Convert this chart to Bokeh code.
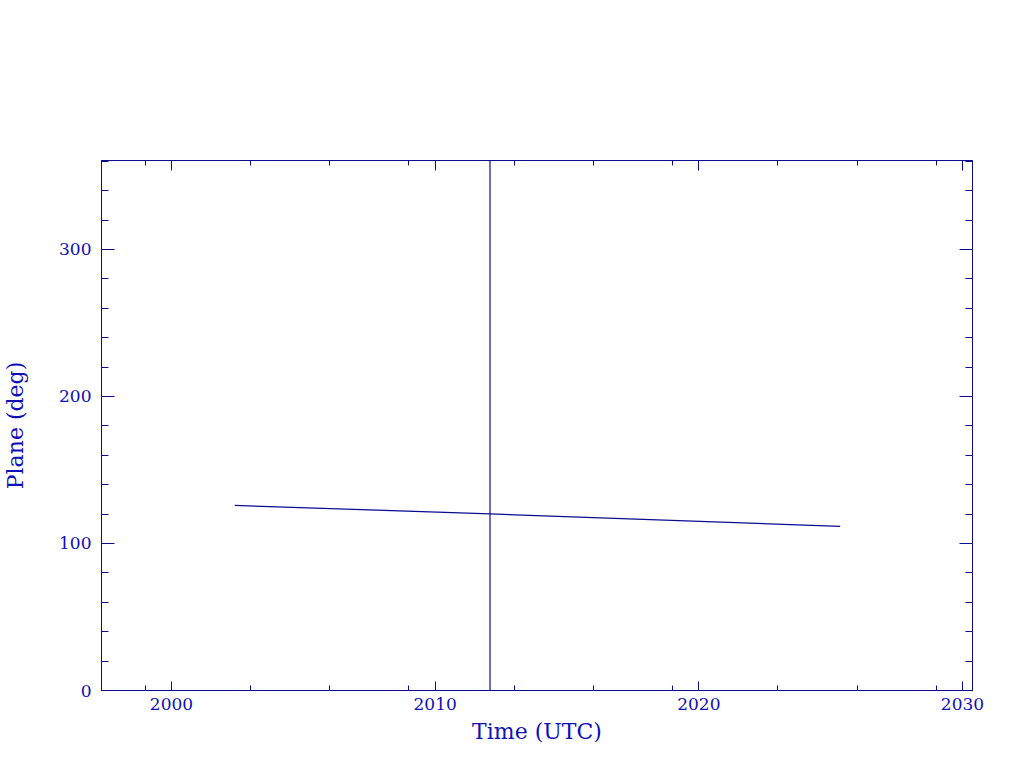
from bokeh.plotting import figure
from bokeh.models import LinearAxis, FixedTicker, Span, Range1d
from bokeh.embed import file_html
from bokeh.resources import INLINE

# data
years = [2002.4, 2012.08, 2025.36]
plane_deg = [125.9, 120.1, 111.6]
marker_year = 2012.08

x_major = [2000, 2010, 2020, 2030]
x_minor = [1999, 2003, 2006, 2009, 2013, 2016, 2019, 2023, 2026, 2029]
y_major = [0, 100, 200, 300]
y_minor = [v for v in range(0, 361, 20) if v % 100 != 0]

LINE = "#0c0c90"
TEXT = "#1010b8"
FONT = "DejaVu Serif"

p = figure(width=1000, height=750, output_backend="svg", toolbar_location=None,
           x_range=Range1d(1997.345, 2030.38), y_range=Range1d(0, 360.5),
           x_axis_location=None, y_axis_location=None,
           min_border_left=95, min_border_right=34, min_border_top=160, min_border_bottom=60)
p.frame_width = 871
p.frame_height = 530
p.xgrid.visible = False
p.ygrid.visible = False
p.outline_line_color = LINE
p.background_fill_color = "white"
p.border_fill_color = "white"


def style(ax, labels, major_len, minor_len):
    ax.axis_line_color = LINE
    ax.major_tick_line_color = LINE
    ax.minor_tick_line_color = LINE
    ax.major_tick_in = major_len
    ax.major_tick_out = 0
    ax.minor_tick_in = minor_len
    ax.minor_tick_out = 0
    if not labels:
        ax.major_label_text_font_size = "0px"
        ax.major_label_text_color = None


xt = FixedTicker(ticks=x_major, minor_ticks=x_minor)
yt = FixedTicker(ticks=y_major, minor_ticks=y_minor)

xb = LinearAxis(ticker=xt, axis_label="Time (UTC)")
style(xb, True, 9, 5)
xb.major_label_text_font = FONT
xb.major_label_text_font_size = "17px"
xb.major_label_text_color = TEXT
xb.major_label_standoff = 7
xb.axis_label_text_font = FONT
xb.axis_label_text_font_size = "22px"
xb.axis_label_text_font_style = "normal"
xb.axis_label_text_color = TEXT
xb.axis_label_standoff = 6
p.add_layout(xb, "below")

xa = LinearAxis(ticker=FixedTicker(ticks=x_major, minor_ticks=x_minor))
style(xa, False, 10, 5)
p.add_layout(xa, "above")

yl = LinearAxis(ticker=yt, axis_label="Plane (deg)")
style(yl, True, 13, 7)
yl.major_label_text_font = FONT
yl.major_label_text_font_size = "17px"
yl.major_label_text_color = TEXT
yl.major_label_standoff = 10
yl.major_label_orientation = "horizontal"
yl.axis_label_text_font = FONT
yl.axis_label_text_font_size = "22px"
yl.axis_label_text_font_style = "normal"
yl.axis_label_text_color = TEXT
yl.axis_label_standoff = 28
p.add_layout(yl, "left")

yr = LinearAxis(ticker=FixedTicker(ticks=y_major, minor_ticks=y_minor))
style(yr, False, 13, 7)
p.add_layout(yr, "right")

p.line(years, plane_deg, line_color=LINE, line_width=1.3)
p.add_layout(Span(location=marker_year, dimension="height", line_color=LINE, line_width=1.2))

open("out.html", "w").write(file_html(p, INLINE))
